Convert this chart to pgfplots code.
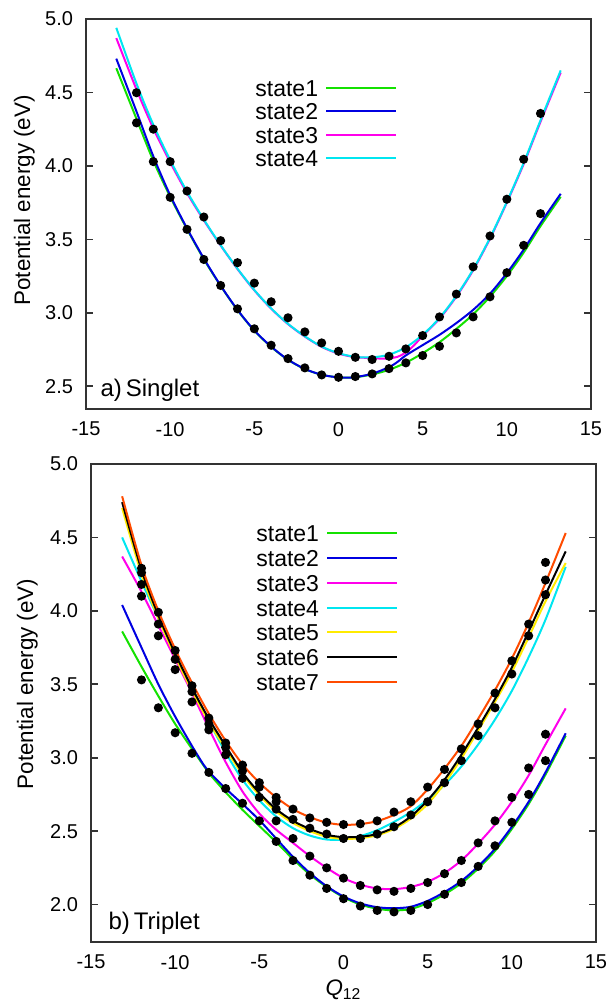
\documentclass[border=0pt]{standalone}
\usepackage{pgfplots}
\pgfplotsset{compat=1.18}
\usepackage{fontspec}
\setmainfont{Liberation Sans}
\definecolor{cgreen}{RGB}{20,225,0}
\definecolor{cblue}{RGB}{0,0,225}
\definecolor{cmag}{RGB}{255,0,235}
\definecolor{ccyan}{RGB}{0,230,240}
\definecolor{cyel}{RGB}{255,235,0}
\definecolor{corange}{RGB}{255,75,0}
\pgfplotsset{
  legend image code/.code={\draw[#1] (0pt,0pt) -- (35pt,0pt);},
  myax/.style={
    scale only axis, width=252.5pt,
    xmin=-15, xmax=15, xtick={-15,-10,...,15},
    axis line style={line width=0.8pt, black!80},
    xtick style={draw=none}, xtick pos=bottom,
    ytick style={line width=0.8pt, black!80},
    ytick pos=both, yticklabel pos=left, tick align=inside,
    major tick length=3.5pt,
    /pgf/number format/assume math mode=true,
    yticklabel style={/pgf/number format/fixed, /pgf/number format/fixed zerofill, /pgf/number format/precision=1, font=\fontsize{10}{12}\selectfont, xshift=-3pt},
    xticklabel style={font=\fontsize{10}{12}\selectfont, yshift=-3pt},
    label style={font=\fontsize{11.2}{13}\selectfont},
    legend plot pos=right,
    legend cell align=right,
    legend style={draw=none, fill=none, anchor=north east, column sep=3.5pt,
      inner sep=0pt, outer sep=0pt,
      font=\fontsize{11.5}{12}\selectfont,
      nodes={inner sep=0pt, text height=8.5pt, text depth=0pt}},
    every axis plot/.append style={line width=1pt},
  },
  dots/.style={only marks, mark=*, mark size=1.75pt, black, forget plot},
}
\begin{document}
\begin{tikzpicture}
\path[use as bounding box] (0,0) rectangle (304.5pt,-501pt);
% ---------------- a) Singlet ----------------
\begin{axis}[myax, at={(43pt,-9.5pt)}, anchor=north west, height=195pt,
  ymin=2.345, ymax=5.0, ytick={2.5,3.0,...,5.0},
  ylabel={Potential energy (eV)},
  ylabel style={at={(axis description cs:-0.122,0.535)}, anchor=center},
  legend style={at={(axis description cs:0.616,0.845)}, row sep=3.2pt}]
\addplot[cgreen, smooth] coordinates {(-13.2,4.665) (-12,4.32) (-11,4.035) (-10,3.79) (-9,3.57) (-8,3.365) (-7,3.183) (-6,3.018) (-5,2.878) (-4,2.768) (-3,2.68) (-2,2.617) (-1,2.578) (0,2.56) (0.5,2.558) (1,2.561) (2,2.58) (3,2.612) (4,2.66) (5,2.725) (6,2.80) (7,2.89) (8,2.99) (9,3.11) (10,3.25) (11,3.41) (12,3.59) (13.2,3.79)};
\addlegendentry{state1}
\addplot[cblue, smooth] coordinates {(-13.2,4.73) (-12,4.37) (-11,4.065) (-10,3.80) (-9,3.575) (-8,3.37) (-7,3.185) (-6,3.02) (-5,2.88) (-4,2.77) (-3,2.681) (-2,2.618) (-1,2.578) (0,2.56) (0.5,2.558) (1,2.562) (2,2.585) (3,2.63) (3.5,2.665) (4,2.71) (5,2.78) (6,2.85) (7,2.93) (8,3.02) (9,3.13) (10,3.27) (11,3.43) (12,3.61) (13.2,3.81)};
\addlegendentry{state2}
\addplot[cmag, smooth] coordinates {(-13.2,4.87) (-12,4.52) (-11,4.255) (-10,4.025) (-9,3.815) (-8,3.63) (-7,3.458) (-6,3.298) (-5,3.153) (-4,3.028) (-3,2.923) (-2,2.838) (-1,2.768) (0,2.722) (1,2.698) (2,2.692) (2.5,2.688) (3,2.69) (3.5,2.70) (4,2.73) (4.5,2.78) (5,2.843) (6,2.96) (7,3.11) (8,3.29) (9,3.505) (10,3.75) (11,4.012) (12,4.30) (13.2,4.635)};
\addlegendentry{state3}
\addplot[ccyan, smooth] coordinates {(-13.2,4.94) (-12,4.56) (-11,4.28) (-10,4.04) (-9,3.825) (-8,3.635) (-7,3.46) (-6,3.30) (-5,3.155) (-4,3.03) (-3,2.925) (-2,2.84) (-1,2.77) (0,2.725) (1,2.70) (2,2.697) (3,2.715) (4,2.765) (5,2.85) (6,2.965) (7,3.115) (8,3.295) (9,3.51) (10,3.755) (11,4.02) (12,4.31) (13.2,4.65)};
\addlegendentry{state4}
\addplot[dots] coordinates {
(-12,4.498) (-12,4.293) (-11,4.250) (-11,4.029) (-10,4.029) (-10,3.786)
(-9,3.829) (-9,3.568) (-8,3.652) (-8,3.363) (-7,3.491) (-7,3.186)
(-6,3.341) (-6,3.027) (-5,3.202) (-5,2.891) (-4,3.075) (-4,2.779)
(-3,2.966) (-3,2.688) (-2,2.870) (-2,2.625) (-1,2.795) (-1,2.577)
(0,2.738) (0,2.561) (1,2.697) (1,2.566) (2,2.682) (2,2.584)
(3,2.704) (3,2.620) (4,2.754) (4,2.659) (5,2.845) (5,2.709)
(6,2.972) (6,2.772) (7,3.127) (7,2.863) (8,3.313) (8,2.972)
(9,3.523) (9,3.109) (10,3.773) (10,3.273) (11,4.045) (11,3.459)
(12,4.357) (12,3.675)};
\node[anchor=west, inner sep=0pt, font=\fontsize{12}{14}\selectfont] at (axis description cs:0.028,0.049) {a)\,Singlet};
\end{axis}
% ---------------- b) Triplet ----------------
\begin{axis}[myax, at={(45.5pt,-232pt)}, anchor=north west, height=239pt,
  ymin=1.745, ymax=5.0, ytick={2.0,2.5,...,5.0},
  ylabel={Potential energy (eV)},
  ylabel style={at={(axis description cs:-0.126,0.54)}, anchor=center},
  xlabel={\textit{Q}\textsubscript{12}},
  xlabel style={at={(axis description cs:0.5,0)}, anchor=center, yshift=-24pt},
  legend style={at={(axis description cs:0.608,0.873)}, row sep=3.9pt}]
\addplot[cgreen, smooth] coordinates {(-13.15,3.86) (-12,3.62) (-11,3.42) (-10,3.23) (-9,3.06) (-8.3,2.945) (-8,2.895) (-7,2.765) (-6,2.645) (-5,2.535) (-4,2.425) (-3,2.31) (-2,2.205) (-1,2.12) (0,2.05) (1,2.0) (2,1.972) (3,1.96) (4,1.97) (5,2.01) (6,2.07) (7,2.145) (8,2.245) (9,2.365) (10,2.515) (11,2.685) (12,2.885) (13.2,3.15)};
\addlegendentry{state1}
\addplot[cblue, smooth] coordinates {(-13.15,4.04) (-12,3.75) (-11,3.50) (-10,3.28) (-9,3.08) (-8.3,2.95) (-8,2.905) (-7,2.79) (-6,2.685) (-5,2.575) (-4,2.45) (-3,2.325) (-2,2.215) (-1,2.125) (0,2.055) (1,2.008) (2,1.982) (3,1.975) (4,1.985) (5,2.025) (6,2.085) (7,2.16) (8,2.26) (9,2.38) (10,2.53) (11,2.70) (12,2.90) (13.2,3.166)};
\addlegendentry{state2}
\addplot[cmag, smooth] coordinates {(-13.15,4.37) (-12,4.13) (-11,3.90) (-10,3.67) (-9,3.44) (-8,3.20) (-7,2.97) (-6,2.77) (-5,2.62) (-4,2.51) (-3,2.42) (-2,2.33) (-1,2.25) (0,2.18) (1,2.135) (2,2.11) (3,2.105) (4,2.12) (5,2.155) (6,2.215) (7,2.30) (8,2.415) (9,2.545) (10,2.70) (11,2.88) (12,3.09) (13.2,3.336)};
\addlegendentry{state3}
\addplot[ccyan, smooth] coordinates {(-13.15,4.50) (-12,4.20) (-11,3.95) (-10,3.71) (-9,3.48) (-8,3.25) (-7,3.035) (-6,2.85) (-5,2.71) (-4,2.60) (-3,2.52) (-2,2.47) (-1,2.443) (0,2.443) (1,2.466) (2,2.506) (3,2.563) (4,2.63) (5,2.715) (6,2.815) (7,2.94) (8,3.09) (9,3.26) (10,3.455) (11,3.685) (12,3.94) (13.2,4.30)};
\addlegendentry{state4}
\addplot[cyel, smooth] coordinates {(-13.15,4.70) (-12,4.25) (-11,3.95) (-10,3.69) (-9,3.455) (-8,3.245) (-7,3.06) (-6,2.885) (-5,2.745) (-4,2.635) (-3,2.555) (-2,2.50) (-1,2.462) (0,2.447) (1,2.452) (2,2.472) (3,2.515) (4,2.585) (5,2.685) (6,2.825) (7,2.995) (8,3.185) (9,3.38) (10,3.585) (11,3.82) (12,4.065) (13.2,4.326)};
\addlegendentry{state5}
\addplot[black, smooth] coordinates {(-13.15,4.74) (-12,4.28) (-11,3.97) (-10,3.71) (-9,3.475) (-8,3.265) (-7,3.08) (-6,2.90) (-5,2.76) (-4,2.65) (-3,2.57) (-2,2.515) (-1,2.475) (0,2.459) (1,2.462) (2,2.48) (3,2.525) (4,2.60) (5,2.71) (6,2.85) (7,3.02) (8,3.205) (9,3.40) (10,3.615) (11,3.86) (12,4.11) (13.2,4.405)};
\addlegendentry{state6}
\addplot[corange, smooth] coordinates {(-13.15,4.78) (-12,4.31) (-11,4.00) (-10,3.74) (-9,3.51) (-8,3.30) (-7,3.115) (-6,2.955) (-5,2.83) (-4,2.73) (-3,2.65) (-2,2.595) (-1,2.558) (0,2.543) (1,2.548) (2,2.568) (3,2.61) (4,2.67) (5,2.785) (6,2.925) (7,3.08) (8,3.265) (9,3.46) (10,3.675) (11,3.92) (12,4.19) (13.2,4.53)};
\addlegendentry{state7}
\addplot[dots] coordinates {
(-12,4.29) (-12,4.26) (-12,4.18) (-12,4.10) (-12,3.53)
(-11,3.99) (-11,3.91) (-11,3.83) (-11,3.34)
(-10,3.73) (-10,3.67) (-10,3.60) (-10,3.17)
(-9,3.49) (-9,3.45) (-9,3.38) (-9,3.03)
(-8,3.27) (-8,3.23) (-8,3.19) (-8,2.90)
(-7,3.10) (-7,3.07) (-7,3.02) (-7,2.79)
(-6,2.95) (-6,2.91) (-6,2.86) (-6,2.69)
(-5,2.83) (-5,2.80) (-5,2.73) (-5,2.57)
(-4,2.73) (-4,2.70) (-4,2.65) (-4,2.57) (-4,2.43)
(-3,2.65) (-3,2.58) (-3,2.45) (-3,2.30)
(-2,2.59) (-2,2.52) (-2,2.33) (-2,2.20)
(-1,2.56) (-1,2.48) (-1,2.25) (-1,2.11)
(0,2.545) (0,2.45) (0,2.18) (0,2.04)
(1,2.55) (1,2.45) (1,2.13) (1,1.99)
(2,2.57) (2,2.48) (2,2.10) (2,1.96)
(3,2.63) (3,2.53) (3,2.09) (3,1.95)
(4,2.70) (4,2.61) (4,2.11) (4,1.96)
(5,2.80) (5,2.70) (5,2.15) (5,2.00)
(6,2.92) (6,2.83) (6,2.21) (6,2.07)
(7,3.06) (7,2.98) (7,2.30) (7,2.15)
(8,3.23) (8,3.15) (8,2.42) (8,2.26)
(9,3.44) (9,3.34) (9,2.57) (9,2.40)
(10,3.66) (10,3.57) (10,2.73) (10,2.56)
(11,3.91) (11,3.83) (11,2.93) (11,2.75)
(12,4.33) (12,4.21) (12,4.11) (12,3.16) (12,2.98)};
\node[anchor=west, inner sep=0pt, font=\fontsize{12}{14}\selectfont] at (axis description cs:0.034,0.04) {b)\,Triplet};
\end{axis}
\end{tikzpicture}
\end{document}
